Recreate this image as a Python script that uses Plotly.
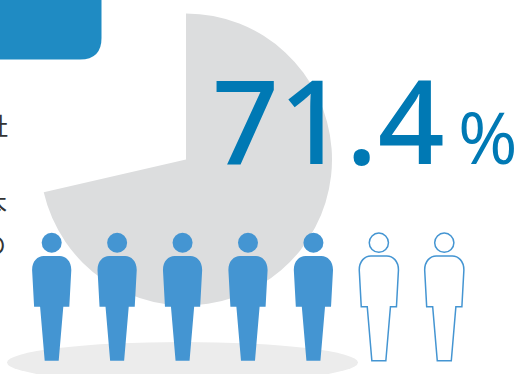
import plotly.graph_objects as go

# Headline figure and the people row that illustrates it
share_percent = 71.4
slice_labels = ["該当", "その他"]
slice_values = [share_percent, round(100 - share_percent, 1)]
people_filled = 5
people_total = 7
side_text = [("社", 124, 7.5), ("本", 203, 6.5), ("の", 243, 5.5)]

W, H = 518, 374
BLUE = "#4495d2"
DEEP = "#0079b4"
GREY = "#dcddde"


def px_x(v):
    return v / W


def px_y(v):
    return 1 - v / H


def body_path(dx):
    # Person outline, defined around the figure's vertical axis
    pts = [
        ("M", [(-8, 256)]),
        ("L", [(8, 256)]),
        ("C", [(14, 256), (19.6, 261), (19.6, 270)]),
        ("L", [(17.6, 306.7)]),
        ("L", [(11.6, 306.7)]),
        ("L", [(7, 360.7)]),
        ("L", [(-7, 360.7)]),
        ("L", [(-11.6, 306.7)]),
        ("L", [(-17.6, 306.7)]),
        ("L", [(-19.6, 270)]),
        ("C", [(-19.6, 261), (-14, 256), (-8, 256)]),
    ]
    out = []
    for cmd, coords in pts:
        out.append(cmd + " ".join(f"{x + dx:.2f},{y:.2f}" for x, y in coords))
    return " ".join(out) + " Z"


fig = go.Figure()
fig.add_trace(go.Pie(
    labels=slice_labels,
    values=slice_values,
    sort=False,
    direction="clockwise",
    rotation=0,
    textinfo="none",
    hoverinfo="skip",
    showlegend=False,
    marker=dict(colors=[GREY, "rgba(0,0,0,0)"], line=dict(width=0)),
    domain=dict(x=[px_x(40), px_x(332)], y=[px_y(305.5), px_y(13.5)]),
))

shapes = [
    # Ground shadow under the row of people
    dict(type="circle", xref="paper", yref="paper", layer="below",
         x0=px_x(7), x1=px_x(358), y0=px_y(342), y1=px_y(383),
         fillcolor="#ececec", line_width=0),
    # Header tab running off the top-left corner
    dict(type="path", xref="paper", yref="paper", layer="above",
         path=(f"M {px_x(-30)},{px_y(-30)} L {px_x(101.5)},{px_y(-30)} "
               f"L {px_x(101.5)},{px_y(38)} "
               f"Q {px_x(101.5)},{px_y(59.5)} {px_x(80)},{px_y(59.5)} "
               f"L {px_x(-30)},{px_y(59.5)} Z"),
         fillcolor="#1f8bc3", line_width=0),
]

spacing = 65.43
for i in range(people_total):
    cx = 51.7 + i * spacing
    filled = i < people_filled
    style = dict(fillcolor=BLUE if filled else "white",
                 line=dict(color=BLUE, width=0 if filled else 1.5))
    r = 10 if filled else 9.6
    shapes.append(dict(type="circle", xref="x", yref="y", layer="above",
                       x0=cx - r, x1=cx + r, y0=242.7 - r, y1=242.7 + r, **style))
    shapes.append(dict(type="path", xref="x", yref="y", layer="above",
                       path=body_path(cx), **style))

annotations = [
    dict(x=px_x(445), y=px_y(198), text=f"{share_percent}", xanchor="right", yanchor="bottom",
         font=dict(family="Noto Sans", size=117, color=DEEP, weight=500)),
    dict(x=px_x(518), y=px_y(185), text="%", xanchor="right", yanchor="bottom",
         font=dict(family="Open Sans", size=72, color=DEEP, weight=500)),
]
for ch, yc, xr in side_text:
    annotations.append(dict(x=px_x(xr), y=px_y(yc), text=ch, xanchor="right", yanchor="middle",
                            font=dict(family="Noto Sans CJK JP", size=24, color="#333333")))
for a in annotations:
    a.update(xref="paper", yref="paper", showarrow=False, borderpad=0, borderwidth=0)

fig.update_layout(
    width=W, height=H,
    margin=dict(l=0, r=0, t=0, b=0),
    paper_bgcolor="white",
    plot_bgcolor="rgba(0,0,0,0)",
    xaxis=dict(visible=False, range=[0, W], domain=[0, 1], fixedrange=True),
    yaxis=dict(visible=False, range=[H, 0], domain=[0, 1], fixedrange=True),
    shapes=shapes,
    annotations=annotations,
)
fig.write_html("out.html", config={"displayModeBar": False})
